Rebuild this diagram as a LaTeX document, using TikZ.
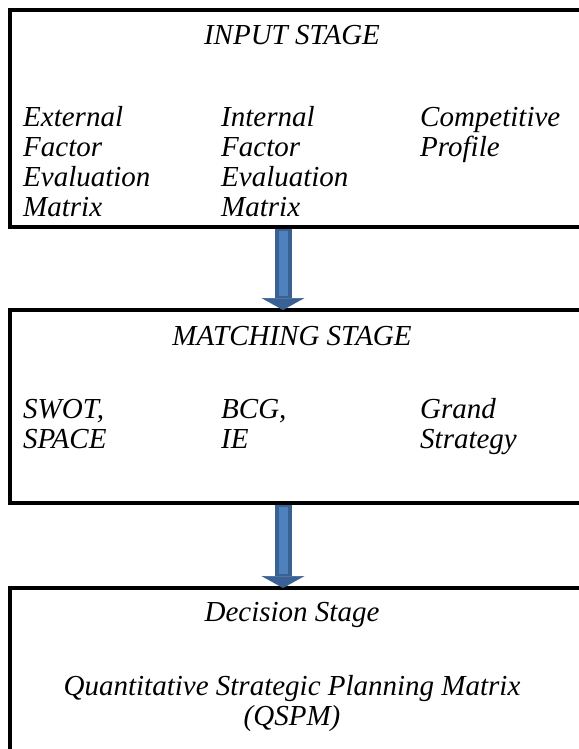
\documentclass[tikz,border=0pt]{standalone}
\usepackage{fontspec}
\setmainfont{Liberation Serif}
\usetikzlibrary{arrows.meta,positioning}
\definecolor{arrowdark}{HTML}{3A6194}
\definecolor{arrowlight}{HTML}{4F81BD}

\begin{document}
\begin{tikzpicture}
  [
   x=1pt, y=-1pt,
   node distance=83pt,
   stagebox/.style={draw,line width=3.4pt,inner sep=0pt,outer sep=0pt,minimum width=580pt},
   stagetext/.style={font=\fontsize{29}{30}\selectfont\itshape,inner sep=0pt,align=center,anchor=base},
   coltext/.style={font=\fontsize{29}{30}\selectfont\itshape,inner sep=0pt,align=left,anchor=base west},
   bigarrow/.style={draw=arrowdark,line width=17pt,-{Triangle[width=43pt,length=12pt,line width=0.6pt]}},
   arrowcore/.style={draw=arrowlight,line width=9pt}
  ]
   \useasboundingbox (0,0) rectangle (578,749);

   \node[stagebox,minimum height=217pt,anchor=north west] (input) at (10,10) {};
   \node[stagebox,minimum height=193pt] (matching) [below=of input] {};
   \node[stagebox,minimum height=180pt] (decision) [below=85pt of matching] {};

   % base of a column is the baseline of its last line
   \node[stagetext] (inputtitle) at (292,45) {INPUT STAGE};
   \node[coltext] (efe) at (23,216) {External\\Factor\\Evaluation\\Matrix};
   \node[coltext] (ife) at (221,216) {Internal\\Factor\\Evaluation\\Matrix};
   \node[coltext] (cpm) at (420,156) {Competitive\\Profile};

   \node[stagetext] (matchtitle) at (292,345) {MATCHING STAGE};
   \node[coltext] (swot) at (23,448) {SWOT,\\SPACE};
   \node[coltext] (bcg) at (221,448) {BCG,\\IE};
   \node[coltext] (grand) at (420,448) {Grand\\Strategy};

   \node[stagetext] (dectitle) at (292,621) {Decision Stage};
   \node[stagetext] (qspm) at (292,725) {Quantitative Strategic Planning Matrix\\(QSPM)};

   \coordinate (axis) at (283,0);
   \draw[bigarrow,shorten <=1.7pt] (input.south -| axis) -- (matching.north -| axis);
   \draw[arrowcore,shorten <=3.8pt,shorten >=14pt] (input.south -| axis) -- (matching.north -| axis);
   \draw[bigarrow,shorten <=1.7pt] (matching.south -| axis) -- (decision.north -| axis);
   \draw[arrowcore,shorten <=3.8pt,shorten >=14pt] (matching.south -| axis) -- (decision.north -| axis);

\end{tikzpicture}
\end{document}
